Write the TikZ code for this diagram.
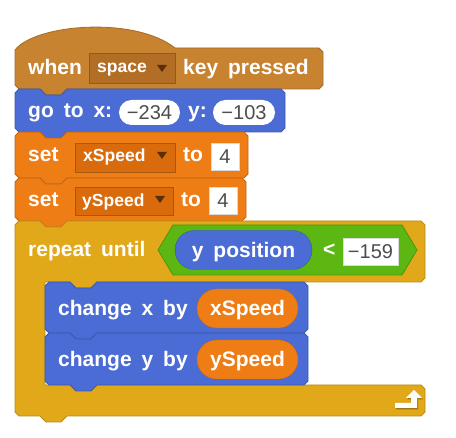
\documentclass[tikz,border=0pt]{standalone}
\usepackage{fontspec}
\setmainfont{Liberation Sans}[WordSpace=1.7]
\usetikzlibrary{shapes.misc}

\definecolor{evt}{HTML}{C88330}
\definecolor{evtdark}{HTML}{B26E24}
\definecolor{mot}{HTML}{4A6CD4}
\definecolor{var}{HTML}{EE7D16}
\definecolor{vardark}{HTML}{D96B0D}
\definecolor{ctl}{HTML}{E1A91A}
\definecolor{ope}{HTML}{5CB712}
\definecolor{numgray}{HTML}{4D4D4D}
\definecolor{ddarrow}{HTML}{5A2E08}

\tikzset{
  blk/.style={line width=0.8pt, line join=round},
  lbl/.style={anchor=base west, inner sep=0pt, text=white,
    font=\bfseries\fontsize{21}{21}\selectfont},
  ddlbl/.style={anchor=base west, inner sep=0pt, text=white,
    font=\bfseries\fontsize{17.5}{17.5}\selectfont},
  rep/.style={rounded rectangle, inner sep=0pt, minimum height=39pt, text=white,
    font=\bfseries\fontsize{21}{21}\selectfont, text height=15pt, text depth=0pt},
  slot/.style={rounded rectangle, inner sep=0pt, minimum height=25pt, fill=white,
    text=numgray, font=\fontsize{20}{20}\selectfont, text height=14pt, text depth=0pt},
  numbox/.style={rectangle, inner sep=0pt, minimum height=27pt, fill=white, draw=black!15,
    text=numgray, font=\fontsize{20}{20}\selectfont, text height=14pt, text depth=0pt},
  ddbox/.style={rectangle, inner sep=0pt, line width=0.8pt}
}

% stack block: colour, left, top, right, bottom
\newcommand{\stackblk}[5]{%
  \filldraw[fill=#1, draw=#1!82!black, blk]
    (#2,{#3+4}) -- ({#2+4},#3) -- ({#2+25},#3) -- ({#2+31},{#3+6}) -- ({#2+46},{#3+6})
    -- ({#2+52},#3) -- ({#4-4},#3) -- (#4,{#3+4}) -- (#4,{#5-4}) -- ({#4-4},#5)
    -- ({#2+52},#5) -- ({#2+46},{#5+6}) -- ({#2+31},{#5+6}) -- ({#2+25},#5)
    -- ({#2+4},#5) -- (#2,{#5-4}) -- cycle;
}
% dropdown arrow: tip x, tip y
\newcommand{\ddarrow}[2]{%
  \fill[ddarrow] ({#1-5},{#2-7}) -- ({#1+5},{#2-7}) -- (#1,#2) -- cycle;
}

\begin{document}
\begin{tikzpicture}[x=1pt, y=-1pt]
  \useasboundingbox (0,0) rectangle (456,438);

  % hat block
  \filldraw[fill=evt, draw=evt!82!black, blk] (15,85) -- (15,50)
    .. controls (35,24) and (135,16) .. (175,48) -- (319,48) -- (323,52)
    -- (323,85) -- (319,89) -- (67,89) -- (61,95) -- (46,95) -- (40,89)
    -- (19,89) -- cycle;
  \node[ddbox, fill=evtdark, draw=evt!70!black, minimum width=86pt, minimum height=30pt]
    (keybox) at (132,68) {};
  \node[lbl] (when) at (28,75) {when};
  \node[ddlbl] (keyname) at (97,73) {space};
  \ddarrow{162}{72}
  \node[lbl] (pressed) at (183,75) {key pressed};

  % go to x y
  \stackblk{mot}{15}{89}{285}{132}
  \node[lbl] (goto) at (28,118) {go to x:};
  \node[slot, minimum width=61pt] (xval) at (149.5,112.5) {−234};
  \node[lbl] (ylbl) at (188,118) {y:};
  \node[slot, minimum width=62pt] (yval) at (244,112.5) {−103};

  % set xSpeed
  \stackblk{var}{15}{132}{248}{178}
  \node[ddbox, fill=vardark, draw=var!70!black, minimum width=100pt, minimum height=29pt]
    (xvar) at (125,157.5) {};
  \node[lbl] (setx) at (28,162) {set};
  \node[ddlbl] (xvarname) at (83,162) {xSpeed};
  \ddarrow{162}{159}
  \node[lbl] (tox) at (183,162) {to};
  \node[numbox, minimum width=28pt] (xinit) at (225,156.5) {4};

  % set ySpeed
  \stackblk{var}{15}{178}{246}{221}
  \node[ddbox, fill=vardark, draw=var!70!black, minimum width=98pt, minimum height=28pt]
    (yvar) at (124,201) {};
  \node[lbl] (sety) at (28,206.5) {set};
  \node[ddlbl] (yvarname) at (82,206.5) {ySpeed};
  \ddarrow{160}{203}
  \node[lbl] (toy) at (181,206.5) {to};
  \node[numbox, minimum width=28pt] (yinit) at (223,200.5) {4};

  % repeat until
  \filldraw[fill=ctl, draw=ctl!82!black, blk] (15,225) -- (19,221) -- (40,221)
    -- (46,227) -- (61,227) -- (67,221) -- (421,221) -- (425,225) -- (425,278)
    -- (421,282) -- (97,282) -- (91,288) -- (76,288) -- (70,282) -- (45,282)
    -- (45,385) -- (421,385) -- (425,389) -- (425,412) -- (421,416) -- (67,416)
    -- (61,422) -- (46,422) -- (40,416) -- (19,416) -- (15,412) -- cycle;
  \node[lbl] (rep) at (28,257) {repeat until};
  \filldraw[fill=ope, draw=ope!82!black, blk] (158,250) -- (173,225) -- (402,225)
    -- (417,250) -- (402,275) -- (173,275) -- cycle;
  \node[rep, fill=mot, draw=mot!80!black, minimum width=137pt] (ypos) at (243.5,250) {y position};
  \node[lbl] (less) at (323,256.5) {<};
  \node[numbox, minimum width=55pt] (limit) at (370.5,251.5) {−159};
  % loop arrow
  \fill[ctl!70!black] (396,404.5) -- (412,404.5) -- (412,399.5) -- (407,399.5) -- (415,391.5)
    -- (423,399.5) -- (418,399.5) -- (418,409.5) -- (396,409.5) -- cycle;
  \fill[white] (395,403) -- (411,403) -- (411,398) -- (406,398) -- (414,390)
    -- (422,398) -- (417,398) -- (417,408) -- (395,408) -- cycle;

  % change x by
  \stackblk{mot}{45}{282}{308}{333}
  \node[lbl] (chx) at (58,315.5) {change x by};
  \node[rep, fill=var, draw=var!85!black, minimum width=101pt] (xspd) at (247.5,308.5) {xSpeed};

  % change y by
  \stackblk{mot}{45}{333}{308}{385}
  \node[lbl] (chy) at (58,366.5) {change y by};
  \node[rep, fill=var, draw=var!85!black, minimum width=101pt] (yspd) at (247.5,359.5) {ySpeed};
\end{tikzpicture}
\end{document}
